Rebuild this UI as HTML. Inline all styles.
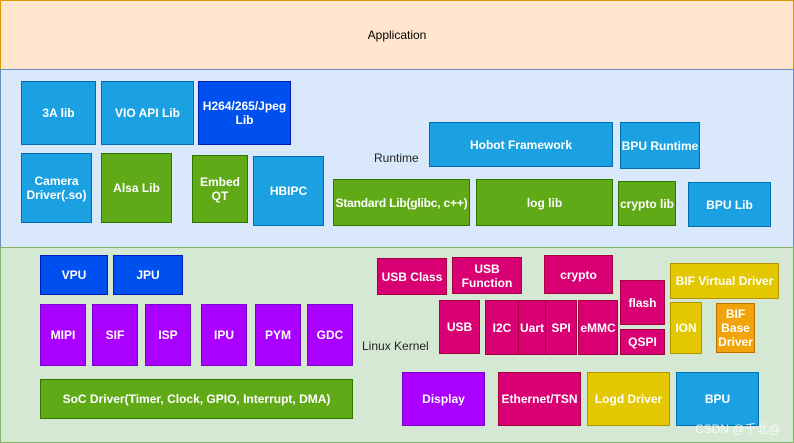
<!DOCTYPE html>
<html><head><meta charset="utf-8"><style>
body{margin:0;width:794px;height:443px;position:relative;overflow:hidden;background:#fff;font-family:"Liberation Sans","Noto Sans CJK SC",sans-serif}
.b{position:absolute;box-sizing:border-box;display:flex;align-items:center;justify-content:center;text-align:center;color:#fff;font-weight:bold;font-size:12px;line-height:14px;border:1px solid;white-space:nowrap}
.lb{background:#1ba1e2;border-color:#006eaf}.bl{background:#0050ef;border-color:#001dbc}
.g{background:#60a917;border-color:#2d7600}.m{background:#d80073;border-color:#a50040}
.p{background:#aa00ff;border-color:#7700cc}.y{background:#e3c800;border-color:#b09500}
.o{background:#f0a30a;border-color:#bd7000}
.t{position:absolute;font-size:12px;color:#222}
</style></head><body>
<div class="b" style="left:0;top:0;width:794px;height:70px;background:#ffe6cc;border-color:#d79b00;color:#000;font-weight:normal">Application</div>
<div class="b" style="left:0;top:69px;width:794px;height:179px;background:#dae8fc;border-color:#6c8ebf"></div>
<div class="b" style="left:0;top:247px;width:794px;height:196px;background:#d5e8d4;border-color:#82b366"></div>
<div class="t" style="left:374px;top:151px">Runtime</div>
<div class="t" style="left:362px;top:339px">Linux Kernel</div>

<div class="b lb" style="left:21px;top:81px;width:75px;height:64px">3A lib</div>
<div class="b lb" style="left:101px;top:81px;width:93px;height:64px">VIO API Lib</div>
<div class="b bl" style="left:198px;top:81px;width:93px;height:64px">H264/265/Jpeg<br>Lib</div>
<div class="b lb" style="left:21px;top:153px;width:71px;height:70px">Camera<br>Driver(.so)</div>
<div class="b g" style="left:101px;top:153px;width:71px;height:70px">Alsa Lib</div>
<div class="b g" style="left:192px;top:155px;width:56px;height:68px">Embed<br>QT</div>
<div class="b lb" style="left:253px;top:156px;width:71px;height:70px">HBIPC</div>
<div class="b g" style="left:333px;top:179px;width:137px;height:47px;letter-spacing:-0.2px">Standard Lib(glibc, c++)</div>
<div class="b lb" style="left:429px;top:122px;width:184px;height:45px">Hobot Framework</div>
<div class="b lb" style="left:620px;top:122px;width:80px;height:47px">BPU Runtime</div>
<div class="b g" style="left:476px;top:179px;width:137px;height:47px">log lib</div>
<div class="b g" style="left:618px;top:181px;width:58px;height:45px">crypto lib</div>
<div class="b lb" style="left:688px;top:182px;width:83px;height:45px">BPU Lib</div>

<div class="b bl" style="left:40px;top:255px;width:68px;height:40px">VPU</div>
<div class="b bl" style="left:113px;top:255px;width:70px;height:40px">JPU</div>
<div class="b p" style="left:40px;top:304px;width:46px;height:62px">MIPI</div>
<div class="b p" style="left:92px;top:304px;width:46px;height:62px">SIF</div>
<div class="b p" style="left:145px;top:304px;width:46px;height:62px">ISP</div>
<div class="b p" style="left:201px;top:304px;width:46px;height:62px">IPU</div>
<div class="b p" style="left:255px;top:304px;width:46px;height:62px">PYM</div>
<div class="b p" style="left:307px;top:304px;width:46px;height:62px">GDC</div>
<div class="b g" style="left:40px;top:379px;width:313px;height:40px">SoC Driver(Timer, Clock, GPIO, Interrupt, DMA)</div>

<div class="b m" style="left:377px;top:258px;width:70px;height:37px">USB Class</div>
<div class="b m" style="left:452px;top:257px;width:70px;height:37px">USB<br>Function</div>
<div class="b m" style="left:544px;top:255px;width:69px;height:39px">crypto</div>
<div class="b m" style="left:620px;top:280px;width:45px;height:45px">flash</div>
<div class="b m" style="left:620px;top:329px;width:45px;height:26px">QSPI</div>
<div class="b y" style="left:670px;top:263px;width:109px;height:36px">BIF Virtual Driver</div>
<div class="b y" style="left:670px;top:302px;width:32px;height:52px">ION</div>
<div class="b o" style="left:716px;top:303px;width:39px;height:50px">BIF<br>Base<br>Driver</div>
<div class="b m" style="left:439px;top:300px;width:41px;height:54px">USB</div>
<div class="b m" style="left:485px;top:300px;width:34px;height:55px">I2C</div>
<div class="b m" style="left:518px;top:300px;width:28px;height:55px">Uart</div>
<div class="b m" style="left:545px;top:300px;width:32px;height:55px">SPI</div>
<div class="b m" style="left:578px;top:300px;width:40px;height:55px">eMMC</div>
<div class="b p" style="left:402px;top:372px;width:83px;height:54px">Display</div>
<div class="b m" style="left:498px;top:372px;width:83px;height:54px">Ethernet/TSN</div>
<div class="b y" style="left:587px;top:372px;width:83px;height:54px">Logd Driver</div>
<div class="b lb" style="left:676px;top:372px;width:83px;height:54px">BPU</div>
<div class="t" style="left:695px;top:420px;color:#fff;font-size:12px;opacity:.85">CSDN @千北@</div>
</body></html>
